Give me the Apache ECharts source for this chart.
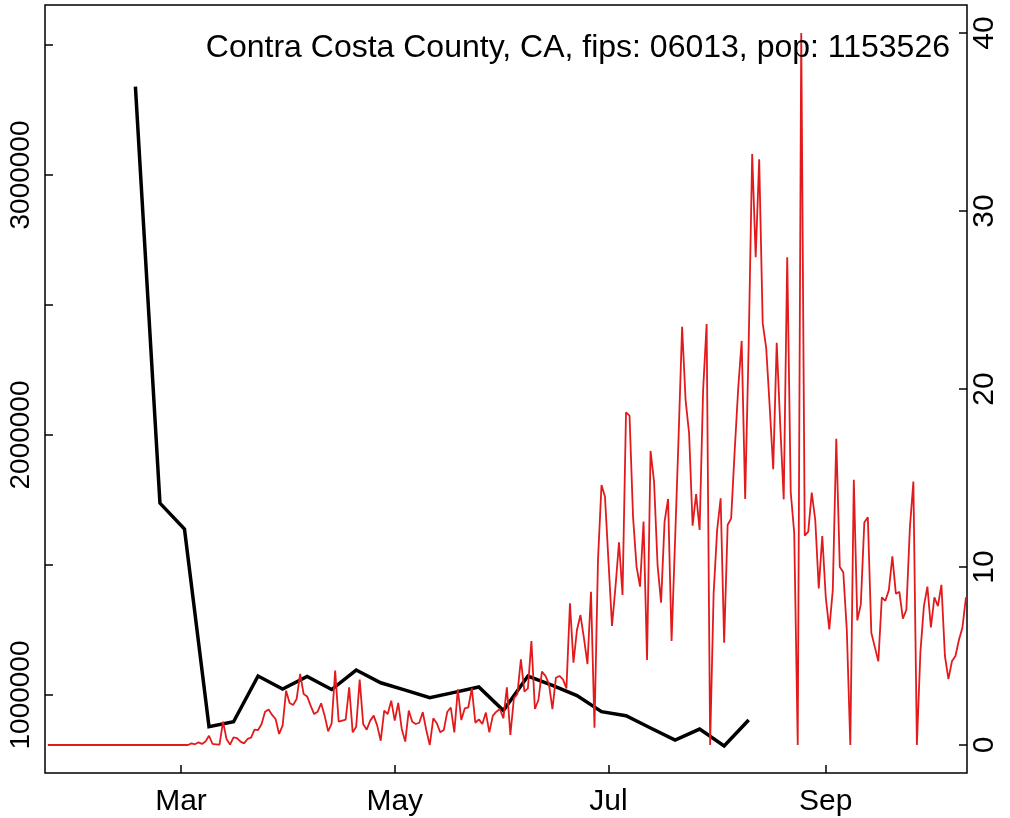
<!DOCTYPE html>
<html>
<head>
<meta charset="utf-8">
<title>Contra Costa County, CA</title>
<script src="https://cdn.jsdelivr.net/npm/echarts@6/dist/echarts.min.js"></script>
<style>
  html, body { margin: 0; padding: 0; background: #fff; }
  #chart { width: 1010px; height: 818px; }
</style>
</head>
<body>
<div id="chart"></div>
<script>
// days are counted from Mar 1 (day 0)
var monthTicks = [0, 61, 122, 184];
var monthLabels = ['Mar', 'May', 'Jul', 'Sep'];

var leftTicks = [1000000, 1500000, 2000000, 2500000, 3000000, 3500000];
var leftLabels = [1000000, 2000000, 3000000];
var rightTicks = [0, 10, 20, 30, 40];

var titleText = 'Contra Costa County, CA, fips: 06013, pop: 1153526';

// weekly series (black line, left axis)
var weekDays = [-13, -6, 1, 8, 15, 22, 29, 36, 43, 50, 57, 64, 71, 78, 85, 92,
  99, 106, 113, 120, 127, 134, 141, 148, 155, 162];
var weekValues = [3340000, 1738000, 1638000, 878000, 897000, 1073000, 1023000,
  1071000, 1021000, 1096000, 1047000, 1019000, 990000, 1010000, 1031000, 940000,
  1073000, 1037000, 998000, 936000, 920000, 873000, 827000, 869000, 804000, 904000];

// daily series (red line, right axis), first value is Jan 22 (day -38)
var dailyStart = -38;
var dailyValues = [
  0, 0, 0, 0, 0, 0, 0, 0, 0, 0,
  0, 0, 0, 0, 0, 0, 0, 0, 0, 0,
  0, 0, 0, 0, 0, 0, 0, 0, 0, 0,
  0, 0, 0, 0, 0, 0, 0, 0, 0, 0,
  0,
  0.09, 0.04, 0.15, 0.06, 0.19, 0.52, 0.06, 0.04, 0.02, 1.31,
  0.34, 0.02, 0.43, 0.39, 0.19, 0.09, 0.34, 0.41, 0.86, 0.84,
  1.18, 1.87, 1.99, 1.69, 1.46, 0.62, 1.09, 3.05, 2.36, 2.25,
  2.58, 3.99, 2.87, 2.73, 2.21, 1.74, 1.87, 2.34, 1.65, 0.77,
  1.22, 4.18, 1.31, 1.37, 1.42, 3.24, 0.71, 1.03, 3.67, 1.18,
  0.86, 1.37, 1.65, 1.09, 0.24, 1.93, 1.74, 2.49, 1.37, 2.36,
  0.90, 0.19, 1.93, 1.31, 1.18, 1.25, 1.84, 0.84, 0, 1.50,
  1.22, 0.71, 0.84, 1.87, 2.10, 0.71, 3.13, 1.40, 2.06, 2.12,
  3.18, 1.25, 1.44, 1.18, 1.82, 0.71, 1.65, 1.87, 2.02, 1.50,
  3.24, 0.56, 2.62, 2.87, 4.81, 3.00, 3.18, 5.84, 2.02, 2.53,
  4.12, 3.88, 3.43, 2.02, 3.78, 3.88, 3.69, 3.18, 7.96, 4.63,
  6.46, 7.30, 5.99, 4.55, 8.61, 0.97, 10.39, 14.6, 13.95, 10.3,
  6.69, 8.9, 11.39, 8.43, 18.69, 18.5, 12.83, 10.02, 8.9, 12.55,
  4.78, 16.52, 14.79, 10.11, 8.0, 12.55, 13.82, 5.84, 11.5, 17.3,
  23.5, 19.38, 17.5, 12.32, 14.1, 12.08, 19.94, 23.65, 0, 8.52,
  12.08, 13.86, 5.75, 12.36, 12.73, 16.5, 20, 22.7, 13.82, 22.5,
  33.2, 27.4, 32.9, 23.7, 22.3, 19, 15.5, 22.6, 18, 13.8,
  27.4, 14.2, 11.9, 0, 40, 11.76, 11.99, 14.18, 12.64, 8.8,
  11.74, 8.3, 6.5, 8.7, 17.2, 10.0, 9.7, 6.46, 0, 14.9,
  7.0, 7.9, 12.5, 12.8, 6.3, 5.5, 4.7, 8.3, 8.1, 8.7,
  10.6, 8.5, 8.6, 7.1, 7.6, 12.2, 14.8, 0, 5.2, 7.8,
  8.9, 6.6, 8.3, 7.8, 9.0, 5.0, 3.7, 4.7, 5.0, 5.9,
  6.6, 8.3
];

var weekData = weekDays.map(function (d, i) { return [d, weekValues[i]]; });
var dailyData = dailyValues.map(function (v, i) { return [dailyStart + i, v]; });

var font = '"Liberation Sans", Arial, Helvetica, sans-serif';
var tickStyle = { color: '#000', width: 1.5 };

var chart = echarts.init(document.getElementById('chart'));
chart.setOption({
  animation: false,
  backgroundColor: '#fff',
  title: {
    text: titleText,
    right: 60,
    top: 32,
    padding: 0,
    textStyle: { fontFamily: font, fontSize: 32, fontWeight: 'normal', color: '#000' }
  },
  grid: {
    left: 45, right: 43, top: 5, bottom: 45,
    show: true, borderColor: '#000', borderWidth: 1.5, backgroundColor: 'transparent'
  },
  xAxis: {
    type: 'value',
    min: -38.8,
    max: 224.3,
    axisLine: { show: false, onZero: false },
    splitLine: { show: false },
    axisTick: { show: true, inside: true, length: 8, lineStyle: tickStyle,
      customValues: monthTicks },
    axisLabel: {
      customValues: monthTicks,
      margin: 14,
      color: '#000', fontFamily: font, fontSize: 30,
      formatter: function (v) { return monthLabels[monthTicks.indexOf(v)]; }
    }
  },
  yAxis: [{
    type: 'value',
    position: 'left',
    min: 700000,
    max: 3653846,
    axisLine: { show: false, onZero: false },
    splitLine: { show: false },
    axisTick: { show: true, inside: true, length: 8, lineStyle: tickStyle,
      customValues: leftTicks },
    axisLabel: {
      customValues: leftLabels,
      rotate: 90,
      margin: 10,
      color: '#000', fontFamily: font, fontSize: 28,
      formatter: function (v) { return String(v); }
    }
  }, {
    type: 'value',
    position: 'right',
    min: -1.573,
    max: 41.573,
    axisLine: { show: false, onZero: false },
    splitLine: { show: false },
    axisTick: { show: true, inside: true, length: 8, lineStyle: tickStyle,
      customValues: rightTicks },
    axisLabel: {
      customValues: rightTicks,
      rotate: 90,
      margin: 3,
      color: '#000', fontFamily: font, fontSize: 30
    }
  }],
  series: [{
    type: 'line',
    yAxisIndex: 0,
    data: weekData,
    showSymbol: false,
    lineStyle: { color: '#000', width: 3.5, join: 'miter' },
    z: 2
  }, {
    type: 'line',
    yAxisIndex: 1,
    data: dailyData,
    showSymbol: false,
    lineStyle: { color: '#e31a1c', width: 1.8 },
    z: 3
  }]
});
</script>
</body>
</html>
